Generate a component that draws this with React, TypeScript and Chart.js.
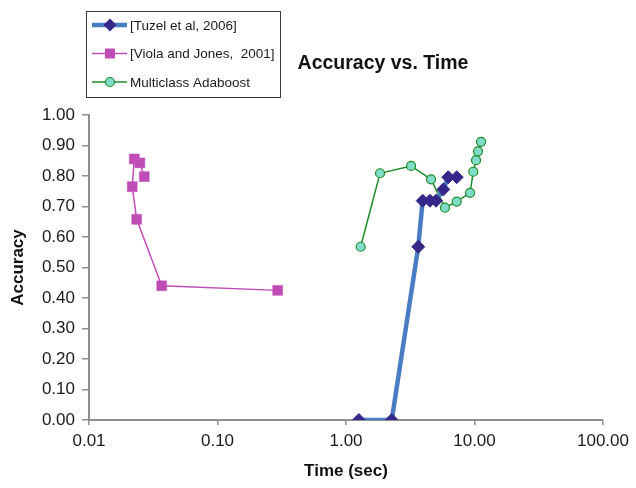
import React, { useEffect, useRef } from "react";
import { Chart, registerables } from "chart.js";
Chart.register(...registerables);

const chartTitle = "Accuracy vs. Time";
const xTitle = "Time (sec)";
const yTitle = "Accuracy";
const seriesNames = ["[Tuzel et al, 2006]", "[Viola and Jones,  2001]", "Multiclass Adaboost"];

const tuzelTime = [1.26, 2.27, 3.65, 3.95, 4.5, 5.02, 5.72, 6.25, 7.27];
const tuzelAcc = [0, 0, 0.568, 0.719, 0.719, 0.719, 0.756, 0.796, 0.796];
const violaTime = [0.0269, 0.0249, 0.0225, 0.0217, 0.0235, 0.0368, 0.294];
const violaAcc = [0.798, 0.843, 0.856, 0.765, 0.658, 0.44, 0.425];
const adaTime = [1.3, 1.84, 3.21, 4.59, 5.89, 7.27, 9.23, 9.79, 10.28, 10.65, 11.25];
const adaAcc = [0.568, 0.809, 0.833, 0.789, 0.696, 0.716, 0.745, 0.814, 0.852, 0.881, 0.912];
const xTicks = [0.01, 0.1, 1, 10, 100];

const FONT = '"Liberation Sans", Arial, Helvetica, sans-serif';
const AXIS = "#8f8f8f";
const BLUE_LINE = "#4a7cc4";
const NAVY = "#35288a";
const PURPLE = "#bf4db5";
const GREEN = "#1e8c2a";
const AQUA = "#80dcc8";

const toPts = (xs: number[], ys: number[]) => xs.map((x, i) => ({ x, y: ys[i] }));

const overlay = {
  id: "overlay",
  afterDraw(chart: any) {
    const ctx = chart.ctx as CanvasRenderingContext2D;
    const area = chart.chartArea;
    ctx.save();
    // Chart title
    ctx.fillStyle = "#111";
    ctx.textAlign = "center";
    ctx.textBaseline = "middle";
    ctx.font = `bold 19.5px ${FONT}`;
    ctx.fillText(chartTitle, 383, 64);
    // X title
    ctx.font = `bold 17px ${FONT}`;
    ctx.fillText(xTitle, (area.left + area.right) / 2, 471);
    // Y title
    ctx.save();
    ctx.translate(18, (area.top + area.bottom) / 2);
    ctx.rotate(-Math.PI / 2);
    ctx.fillText(yTitle, 0, 0);
    ctx.restore();

    // Legend box
    ctx.strokeStyle = "#3a3a3a";
    ctx.lineWidth = 1;
    ctx.strokeRect(86.5, 11.5, 194, 86);
    const rows = [25, 53.5, 82];
    const lx0 = 92, lx1 = 127, mx = 110;
    ctx.textAlign = "left";
    ctx.font = `13.5px ${FONT}`;
    // row 1
    ctx.strokeStyle = BLUE_LINE;
    ctx.lineWidth = 4.5;
    ctx.beginPath(); ctx.moveTo(lx0, rows[0]); ctx.lineTo(lx1, rows[0]); ctx.stroke();
    ctx.fillStyle = NAVY;
    ctx.beginPath();
    ctx.moveTo(mx - 6.5, rows[0]); ctx.lineTo(mx, rows[0] - 6.5);
    ctx.lineTo(mx + 6.5, rows[0]); ctx.lineTo(mx, rows[0] + 6.5);
    ctx.closePath(); ctx.fill();
    // row 2
    ctx.strokeStyle = PURPLE;
    ctx.lineWidth = 1.5;
    ctx.beginPath(); ctx.moveTo(lx0, rows[1]); ctx.lineTo(lx1, rows[1]); ctx.stroke();
    ctx.fillStyle = PURPLE;
    ctx.fillRect(mx - 5, rows[1] - 5, 10, 10);
    // row 3
    ctx.strokeStyle = GREEN;
    ctx.lineWidth = 1.5;
    ctx.beginPath(); ctx.moveTo(lx0, rows[2]); ctx.lineTo(lx1, rows[2]); ctx.stroke();
    ctx.fillStyle = AQUA;
    ctx.beginPath(); ctx.arc(mx, rows[2], 4.5, 0, Math.PI * 2); ctx.fill();
    ctx.lineWidth = 1.2; ctx.stroke();
    // texts
    ctx.fillStyle = "#1a1a1a";
    ctx.textBaseline = "middle";
    seriesNames.forEach((n, i) => ctx.fillText(n, 130, rows[i] + 1));
    ctx.restore();
  },
};

export default function App() {
  const ref = useRef<HTMLCanvasElement>(null);
  useEffect(() => {
    if (!ref.current) return;
    const chart = new Chart(ref.current, {
      type: "scatter",
      data: {
        datasets: [
          {
            label: seriesNames[0],
            data: toPts(tuzelTime, tuzelAcc),
            showLine: true,
            borderColor: BLUE_LINE,
            borderWidth: 4.5,
            pointStyle: "rectRot",
            pointRadius: 6.5,
            pointBackgroundColor: NAVY,
            pointBorderColor: NAVY,
            pointBorderWidth: 1,
          },
          {
            label: seriesNames[1],
            data: toPts(violaTime, violaAcc),
            showLine: true,
            borderColor: PURPLE,
            borderWidth: 1.5,
            pointStyle: "rect",
            pointRadius: 7,
            pointBackgroundColor: PURPLE,
            pointBorderColor: PURPLE,
            pointBorderWidth: 0.5,
          },
          {
            label: seriesNames[2],
            data: toPts(adaTime, adaAcc),
            showLine: true,
            borderColor: GREEN,
            borderWidth: 1.5,
            pointStyle: "circle",
            pointRadius: 4.5,
            pointBackgroundColor: AQUA,
            pointBorderColor: GREEN,
            pointBorderWidth: 1.2,
          },
        ],
      },
      options: {
        responsive: false,
        animation: false,
        devicePixelRatio: 1,
        layout: { padding: { top: 115, right: 33, left: 0, bottom: 0 } },
        plugins: { legend: { display: false }, title: { display: false }, tooltip: { enabled: false } },
        scales: {
          x: {
            type: "logarithmic",
            min: 0.01,
            max: 100,
            afterBuildTicks: (scale: any) => {
              scale.ticks = xTicks.map((v) => ({ value: v }));
            },
            afterFit: (scale: any) => {
              scale.height = 68;
            },
            ticks: {
              autoSkip: false,
              maxRotation: 0,
              padding: 6,
              color: "#1a1a1a",
              font: { family: FONT, size: 17 },
              callback: (v: any) => Number(v).toFixed(2),
            },
            grid: { drawOnChartArea: false, drawTicks: true, tickLength: 5, color: AXIS, lineWidth: 1.5 },
            border: { color: AXIS, width: 2 },
          },
          y: {
            min: 0,
            max: 1,
            afterFit: (scale: any) => {
              scale.width = 89;
            },
            ticks: {
              stepSize: 0.1,
              padding: 7,
              color: "#1a1a1a",
              font: { family: FONT, size: 17 },
              callback: (v: any) => Number(v).toFixed(2),
            },
            grid: { drawOnChartArea: false, drawTicks: true, tickLength: 7, color: AXIS, lineWidth: 1.5 },
            border: { color: AXIS, width: 2 },
          },
        },
      },
      plugins: [overlay],
    } as any);
    return () => chart.destroy();
  }, []);
  return (
    <div style={{ position: "fixed", left: 0, top: 0, width: 636, height: 488, background: "#fff" }}>
      <canvas ref={ref} width={636} height={488} style={{ display: "block" }} />
    </div>
  );
}
